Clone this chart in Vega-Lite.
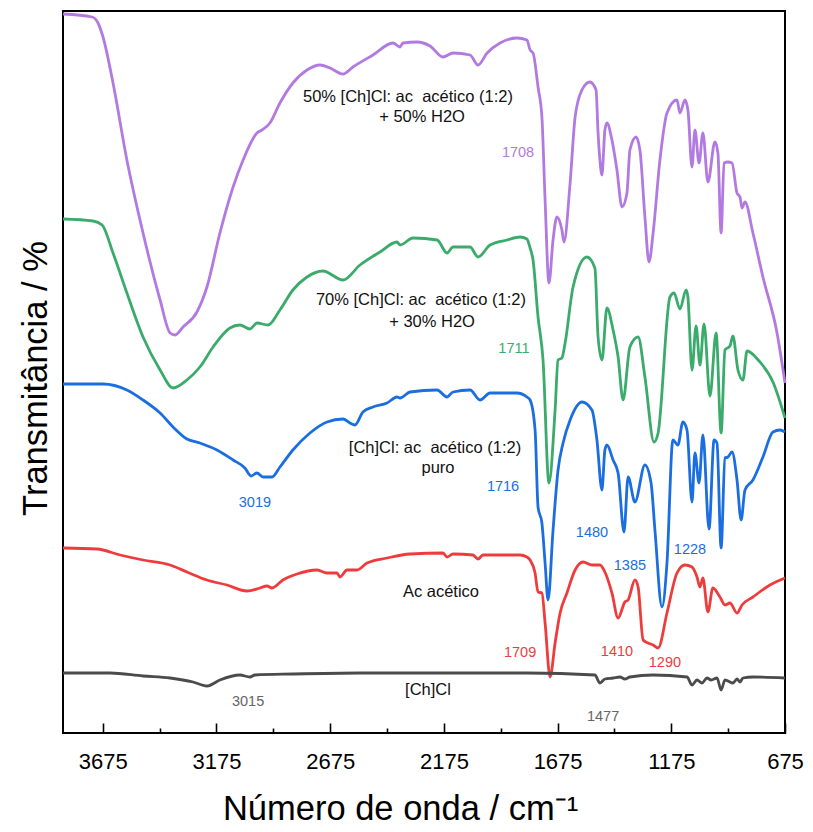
{
  "$schema": "https://vega.github.io/schema/vega-lite/v6.json",
  "width": 722,
  "height": 722,
  "autosize": {"type": "none"},
  "padding": {"left": 63, "top": 11, "right": 28, "bottom": 99},
  "background": "white",
  "config": {
    "view": {"stroke": "#000000", "strokeWidth": 2},
    "font": "Liberation Sans"
  },
  "datasets": {
    "espectros": [
      {"s":"P","w":3850,"t":719},{"s":"P","w":3722,"t":716},{"s":"P","w":3696,"t":710},{"s":"P","w":3674,"t":696},{"s":"P","w":3630,"t":650},{"s":"P","w":3569,"t":573},{"s":"P","w":3498,"t":500},{"s":"P","w":3423,"t":433},{"s":"P","w":3379,"t":400},{"s":"P","w":3357,"t":398},{"s":"P","w":3322,"t":406},{"s":"P","w":3261,"t":421},{"s":"P","w":3217,"t":446},{"s":"P","w":3160,"t":500},{"s":"P","w":3102,"t":546},{"s":"P","w":3058,"t":573},{"s":"P","w":2997,"t":600},{"s":"P","w":2975,"t":603},{"s":"P","w":2940,"t":610},{"s":"P","w":2896,"t":630},{"s":"P","w":2839,"t":650},{"s":"P","w":2777,"t":663},{"s":"P","w":2720,"t":668},{"s":"P","w":2676,"t":665},{"s":"P","w":2619,"t":659},{"s":"P","w":2575,"t":666},{"s":"P","w":2487,"t":678},{"s":"P","w":2399,"t":690},{"s":"P","w":2368,"t":686},{"s":"P","w":2355,"t":690},{"s":"P","w":2293,"t":691},{"s":"P","w":2236,"t":687},{"s":"P","w":2179,"t":676},{"s":"P","w":2135,"t":680},{"s":"P","w":2060,"t":678},{"s":"P","w":2025,"t":668},{"s":"P","w":1985,"t":680},{"s":"P","w":1928,"t":690},{"s":"P","w":1854,"t":695},{"s":"P","w":1810,"t":693},{"s":"P","w":1796,"t":683},{"s":"P","w":1783,"t":680},{"s":"P","w":1761,"t":646},{"s":"P","w":1744,"t":616},{"s":"P","w":1730,"t":533},{"s":"P","w":1713,"t":450},{"s":"P","w":1695,"t":493},{"s":"P","w":1678,"t":516},{"s":"P","w":1656,"t":503},{"s":"P","w":1647,"t":491},{"s":"P","w":1620,"t":550},{"s":"P","w":1598,"t":616},{"s":"P","w":1568,"t":643},{"s":"P","w":1533,"t":651},{"s":"P","w":1506,"t":643},{"s":"P","w":1497,"t":600},{"s":"P","w":1489,"t":573},{"s":"P","w":1480,"t":558},{"s":"P","w":1467,"t":603},{"s":"P","w":1458,"t":610},{"s":"P","w":1436,"t":593},{"s":"P","w":1414,"t":563},{"s":"P","w":1392,"t":526},{"s":"P","w":1370,"t":540},{"s":"P","w":1357,"t":583},{"s":"P","w":1330,"t":596},{"s":"P","w":1313,"t":583},{"s":"P","w":1291,"t":516},{"s":"P","w":1273,"t":471},{"s":"P","w":1255,"t":500},{"s":"P","w":1225,"t":573},{"s":"P","w":1194,"t":620},{"s":"P","w":1150,"t":633},{"s":"P","w":1137,"t":620},{"s":"P","w":1115,"t":633},{"s":"P","w":1102,"t":623},{"s":"P","w":1084,"t":566},{"s":"P","w":1071,"t":603},{"s":"P","w":1053,"t":570},{"s":"P","w":1036,"t":600},{"s":"P","w":1014,"t":551},{"s":"P","w":983,"t":591},{"s":"P","w":970,"t":580},{"s":"P","w":956,"t":500},{"s":"P","w":943,"t":570},{"s":"P","w":926,"t":571},{"s":"P","w":908,"t":570},{"s":"P","w":886,"t":540},{"s":"P","w":873,"t":536},{"s":"P","w":864,"t":525},{"s":"P","w":851,"t":531},{"s":"P","w":816,"t":500},{"s":"P","w":772,"t":456},{"s":"P","w":710,"t":400},{"s":"P","w":675,"t":350},

      {"s":"G","w":3850,"t":514},{"s":"G","w":3718,"t":512},{"s":"G","w":3678,"t":508},{"s":"G","w":3630,"t":480},{"s":"G","w":3569,"t":440},{"s":"G","w":3498,"t":396},{"s":"G","w":3423,"t":363},{"s":"G","w":3366,"t":345},{"s":"G","w":3305,"t":353},{"s":"G","w":3248,"t":366},{"s":"G","w":3190,"t":386},{"s":"G","w":3116,"t":405},{"s":"G","w":3072,"t":408},{"s":"G","w":3028,"t":404},{"s":"G","w":2997,"t":410},{"s":"G","w":2948,"t":408},{"s":"G","w":2896,"t":423},{"s":"G","w":2839,"t":443},{"s":"G","w":2777,"t":456},{"s":"G","w":2707,"t":462},{"s":"G","w":2619,"t":453},{"s":"G","w":2544,"t":468},{"s":"G","w":2456,"t":481},{"s":"G","w":2381,"t":491},{"s":"G","w":2368,"t":488},{"s":"G","w":2311,"t":495},{"s":"G","w":2205,"t":493},{"s":"G","w":2161,"t":480},{"s":"G","w":2135,"t":486},{"s":"G","w":2060,"t":486},{"s":"G","w":2025,"t":476},{"s":"G","w":1972,"t":488},{"s":"G","w":1897,"t":493},{"s":"G","w":1840,"t":496},{"s":"G","w":1810,"t":494},{"s":"G","w":1796,"t":485},{"s":"G","w":1783,"t":473},{"s":"G","w":1761,"t":416},{"s":"G","w":1739,"t":373},{"s":"G","w":1713,"t":250},{"s":"G","w":1686,"t":323},{"s":"G","w":1673,"t":373},{"s":"G","w":1656,"t":375},{"s":"G","w":1642,"t":390},{"s":"G","w":1607,"t":446},{"s":"G","w":1546,"t":476},{"s":"G","w":1511,"t":465},{"s":"G","w":1497,"t":396},{"s":"G","w":1480,"t":373},{"s":"G","w":1458,"t":425},{"s":"G","w":1431,"t":403},{"s":"G","w":1409,"t":376},{"s":"G","w":1387,"t":333},{"s":"G","w":1357,"t":386},{"s":"G","w":1321,"t":396},{"s":"G","w":1291,"t":356},{"s":"G","w":1251,"t":291},{"s":"G","w":1233,"t":300},{"s":"G","w":1181,"t":436},{"s":"G","w":1163,"t":440},{"s":"G","w":1137,"t":424},{"s":"G","w":1110,"t":443},{"s":"G","w":1102,"t":436},{"s":"G","w":1084,"t":363},{"s":"G","w":1066,"t":407},{"s":"G","w":1049,"t":368},{"s":"G","w":1031,"t":409},{"s":"G","w":1005,"t":337},{"s":"G","w":978,"t":400},{"s":"G","w":956,"t":300},{"s":"G","w":939,"t":383},{"s":"G","w":917,"t":387},{"s":"G","w":904,"t":397},{"s":"G","w":882,"t":363},{"s":"G","w":860,"t":353},{"s":"G","w":842,"t":382},{"s":"G","w":789,"t":372},{"s":"G","w":728,"t":351},{"s":"G","w":675,"t":315},

      {"s":"B","w":3850,"t":349},{"s":"B","w":3674,"t":349},{"s":"B","w":3569,"t":343},{"s":"B","w":3498,"t":333},{"s":"B","w":3423,"t":320},{"s":"B","w":3366,"t":306},{"s":"B","w":3305,"t":294},{"s":"B","w":3248,"t":290},{"s":"B","w":3173,"t":283},{"s":"B","w":3102,"t":273},{"s":"B","w":3050,"t":265},{"s":"B","w":3023,"t":257},{"s":"B","w":2997,"t":260},{"s":"B","w":2970,"t":256},{"s":"B","w":2931,"t":256},{"s":"B","w":2896,"t":266},{"s":"B","w":2839,"t":283},{"s":"B","w":2764,"t":300},{"s":"B","w":2689,"t":311},{"s":"B","w":2619,"t":314},{"s":"B","w":2588,"t":310},{"s":"B","w":2566,"t":308},{"s":"B","w":2531,"t":321},{"s":"B","w":2487,"t":326},{"s":"B","w":2425,"t":330},{"s":"B","w":2381,"t":336},{"s":"B","w":2368,"t":335},{"s":"B","w":2324,"t":341},{"s":"B","w":2205,"t":343},{"s":"B","w":2161,"t":336},{"s":"B","w":2135,"t":341},{"s":"B","w":2060,"t":343},{"s":"B","w":2016,"t":333},{"s":"B","w":1972,"t":340},{"s":"B","w":1854,"t":340},{"s":"B","w":1810,"t":336},{"s":"B","w":1796,"t":333},{"s":"B","w":1774,"t":303},{"s":"B","w":1761,"t":226},{"s":"B","w":1744,"t":210},{"s":"B","w":1730,"t":170},{"s":"B","w":1717,"t":133},{"s":"B","w":1695,"t":203},{"s":"B","w":1673,"t":263},{"s":"B","w":1651,"t":290},{"s":"B","w":1620,"t":313},{"s":"B","w":1568,"t":331},{"s":"B","w":1524,"t":323},{"s":"B","w":1502,"t":293},{"s":"B","w":1480,"t":243},{"s":"B","w":1467,"t":283},{"s":"B","w":1458,"t":288},{"s":"B","w":1431,"t":273},{"s":"B","w":1409,"t":260},{"s":"B","w":1383,"t":201},{"s":"B","w":1365,"t":256},{"s":"B","w":1335,"t":231},{"s":"B","w":1291,"t":268},{"s":"B","w":1264,"t":250},{"s":"B","w":1247,"t":203},{"s":"B","w":1216,"t":126},{"s":"B","w":1194,"t":170},{"s":"B","w":1168,"t":293},{"s":"B","w":1146,"t":288},{"s":"B","w":1124,"t":311},{"s":"B","w":1106,"t":303},{"s":"B","w":1084,"t":231},{"s":"B","w":1071,"t":280},{"s":"B","w":1053,"t":250},{"s":"B","w":1036,"t":298},{"s":"B","w":1009,"t":204},{"s":"B","w":987,"t":293},{"s":"B","w":974,"t":290},{"s":"B","w":956,"t":185},{"s":"B","w":939,"t":275},{"s":"B","w":926,"t":276},{"s":"B","w":908,"t":281},{"s":"B","w":886,"t":253},{"s":"B","w":868,"t":213},{"s":"B","w":851,"t":243},{"s":"B","w":816,"t":253},{"s":"B","w":772,"t":276},{"s":"B","w":728,"t":301},{"s":"B","w":697,"t":303},{"s":"B","w":675,"t":301},

      {"s":"R","w":3850,"t":185},{"s":"R","w":3701,"t":184},{"s":"R","w":3599,"t":178},{"s":"R","w":3498,"t":173},{"s":"R","w":3379,"t":168},{"s":"R","w":3305,"t":161},{"s":"R","w":3217,"t":153},{"s":"R","w":3129,"t":148},{"s":"R","w":3041,"t":142},{"s":"R","w":2984,"t":145},{"s":"R","w":2953,"t":147},{"s":"R","w":2931,"t":145},{"s":"R","w":2883,"t":153},{"s":"R","w":2821,"t":159},{"s":"R","w":2733,"t":163},{"s":"R","w":2689,"t":160},{"s":"R","w":2645,"t":160},{"s":"R","w":2632,"t":156},{"s":"R","w":2601,"t":163},{"s":"R","w":2557,"t":163},{"s":"R","w":2513,"t":170},{"s":"R","w":2425,"t":175},{"s":"R","w":2324,"t":179},{"s":"R","w":2179,"t":180},{"s":"R","w":2161,"t":176},{"s":"R","w":2135,"t":179},{"s":"R","w":2047,"t":178},{"s":"R","w":2025,"t":174},{"s":"R","w":2003,"t":178},{"s":"R","w":1840,"t":178},{"s":"R","w":1810,"t":176},{"s":"R","w":1796,"t":173},{"s":"R","w":1774,"t":160},{"s":"R","w":1761,"t":141},{"s":"R","w":1744,"t":140},{"s":"R","w":1730,"t":110},{"s":"R","w":1708,"t":56},{"s":"R","w":1686,"t":90},{"s":"R","w":1664,"t":120},{"s":"R","w":1634,"t":140},{"s":"R","w":1598,"t":163},{"s":"R","w":1563,"t":171},{"s":"R","w":1524,"t":168},{"s":"R","w":1489,"t":168},{"s":"R","w":1467,"t":161},{"s":"R","w":1436,"t":140},{"s":"R","w":1409,"t":115},{"s":"R","w":1379,"t":131},{"s":"R","w":1365,"t":133},{"s":"R","w":1335,"t":153},{"s":"R","w":1321,"t":146},{"s":"R","w":1299,"t":93},{"s":"R","w":1277,"t":90},{"s":"R","w":1255,"t":88},{"s":"R","w":1233,"t":85},{"s":"R","w":1194,"t":120},{"s":"R","w":1150,"t":160},{"s":"R","w":1115,"t":168},{"s":"R","w":1084,"t":166},{"s":"R","w":1062,"t":156},{"s":"R","w":1049,"t":146},{"s":"R","w":1036,"t":155},{"s":"R","w":1014,"t":121},{"s":"R","w":992,"t":145},{"s":"R","w":961,"t":136},{"s":"R","w":939,"t":128},{"s":"R","w":917,"t":130},{"s":"R","w":886,"t":120},{"s":"R","w":864,"t":128},{"s":"R","w":816,"t":136},{"s":"R","w":741,"t":148},{"s":"R","w":675,"t":155},

      {"s":"K","w":3850,"t":60},{"s":"K","w":3643,"t":60},{"s":"K","w":3498,"t":57},{"s":"K","w":3379,"t":55},{"s":"K","w":3278,"t":51},{"s":"K","w":3217,"t":47},{"s":"K","w":3160,"t":53},{"s":"K","w":3072,"t":58},{"s":"K","w":3028,"t":56},{"s":"K","w":3006,"t":58},{"s":"K","w":2839,"t":59},{"s":"K","w":2544,"t":60},{"s":"K","w":1810,"t":60},{"s":"K","w":1511,"t":58},{"s":"K","w":1489,"t":50},{"s":"K","w":1467,"t":54},{"s":"K","w":1431,"t":55},{"s":"K","w":1401,"t":56},{"s":"K","w":1379,"t":54},{"s":"K","w":1357,"t":56},{"s":"K","w":1255,"t":58},{"s":"K","w":1106,"t":56},{"s":"K","w":1084,"t":48},{"s":"K","w":1062,"t":53},{"s":"K","w":1040,"t":50},{"s":"K","w":1018,"t":55},{"s":"K","w":1000,"t":53},{"s":"K","w":974,"t":55},{"s":"K","w":956,"t":43},{"s":"K","w":939,"t":53},{"s":"K","w":904,"t":50},{"s":"K","w":886,"t":54},{"s":"K","w":873,"t":51},{"s":"K","w":860,"t":55},{"s":"K","w":816,"t":56},{"s":"K","w":675,"t":55}
    ],
    "muestras": [
      {"txt":"50% [Ch]Cl: ac \u00a0acético (1:2)","w":2333,"t":636,"s":"T"},
      {"txt":"+ 50% H2O","w":2271,"t":616,"s":"T"},
      {"txt":"70% [Ch]Cl: ac \u00a0acético (1:2)","w":2276,"t":433,"s":"T"},
      {"txt":"+ 30% H2O","w":2227,"t":411,"s":"T"},
      {"txt":"[Ch]Cl: ac \u00a0acético (1:2)","w":2214,"t":285,"s":"T"},
      {"txt":"puro","w":2201,"t":265,"s":"T"},
      {"txt":"Ac acético","w":2188,"t":141,"s":"T"},
      {"txt":"[Ch]Cl","w":2245,"t":43,"s":"T"}
    ],
    "picos": [
      {"txt":"1708","w":1849,"t":580,"s":"P"},
      {"txt":"1711","w":1867,"t":384,"s":"G"},
      {"txt":"1716","w":1915,"t":246,"s":"B"},
      {"txt":"3019","w":3006,"t":230,"s":"B"},
      {"txt":"1480","w":1524,"t":200,"s":"B"},
      {"txt":"1385","w":1357,"t":167,"s":"B"},
      {"txt":"1228","w":1093,"t":183,"s":"B"},
      {"txt":"1709","w":1840,"t":80,"s":"R"},
      {"txt":"1410","w":1414,"t":81,"s":"R"},
      {"txt":"1290","w":1203,"t":70,"s":"R"},
      {"txt":"3015","w":3036,"t":31,"s":"K2"},
      {"txt":"1477","w":1475,"t":16,"s":"K2"}
    ]
  },
  "resolve": {"axis": {"x": "independent", "y": "independent"}},
  "layer": [
    {
      "data": {"name": "espectros"},
      "mark": {"type": "line", "strokeWidth": 2.8, "interpolate": "monotone"},
      "encoding": {
        "x": {
          "field": "w", "type": "quantitative",
          "scale": {"domain": [675, 3850], "reverse": true, "nice": false, "zero": false},
          "axis": {
            "orient": "bottom",
            "values": [3675, 3175, 2675, 2175, 1675, 1175, 675],
            "format": "d",
            "domain": false, "grid": false,
            "ticks": true, "offset": -10, "tickSize": 10, "tickColor": "#000000", "tickWidth": 1.6, "zindex": 1,
            "labelFontSize": 22, "labelColor": "#000000", "labelPadding": 18, "labelFlush": false, "labelFont": "Liberation Sans",
            "title": "Número de onda / cm⁻¹", "titleFontSize": 34.5, "titleFontWeight": "normal", "titleColor": "#000000", "titlePadding": 20, "titleFont": "Liberation Sans", "titleX": 337
          }
        },
        "y": {
          "field": "t", "type": "quantitative",
          "scale": {"domain": [0, 722], "nice": false, "zero": false},
          "axis": {
            "orient": "left",
            "labels": false, "ticks": false, "domain": false, "grid": false,
            "title": "Transmitância / %", "titleFontSize": 34.5, "titleFontWeight": "normal", "titleColor": "#000000", "titlePadding": 10, "titleFont": "Liberation Sans", "titleY": 367
          }
        },
        "color": {
          "field": "s", "type": "nominal", "legend": null,
          "scale": {"domain": ["P", "G", "B", "R", "K", "K2", "T"], "range": ["#b27ae0", "#3aab6b", "#1b6ee0", "#ee3c3c", "#4b4b4b", "#666666", "#111111"]}
        },
        "detail": {"field": "s"}
      }
    },
    {
      "data": {"name": "muestras"},
      "mark": {"type": "text", "fontSize": 16.5, "align": "center", "baseline": "middle", "font": "Liberation Sans"},
      "encoding": {
        "x": {
          "field": "w", "type": "quantitative",
          "axis": {
            "orient": "bottom",
            "values": [3425, 2925, 2425, 1925, 1425, 925],
            "labels": false, "domain": false, "grid": false, "title": null,
            "ticks": true, "offset": -5, "tickSize": 5, "tickColor": "#000000", "tickWidth": 1.6, "zindex": 1
          }
        },
        "y": {"field": "t", "type": "quantitative", "axis": null},
        "text": {"field": "txt"},
        "color": {"field": "s", "type": "nominal", "legend": null}
      }
    },
    {
      "data": {"name": "picos"},
      "mark": {"type": "text", "fontSize": 14.5, "align": "center", "baseline": "middle", "font": "Liberation Sans"},
      "encoding": {
        "x": {"field": "w", "type": "quantitative", "axis": null},
        "y": {"field": "t", "type": "quantitative", "axis": null},
        "text": {"field": "txt"},
        "color": {"field": "s", "type": "nominal", "legend": null}
      }
    }
  ]
}
